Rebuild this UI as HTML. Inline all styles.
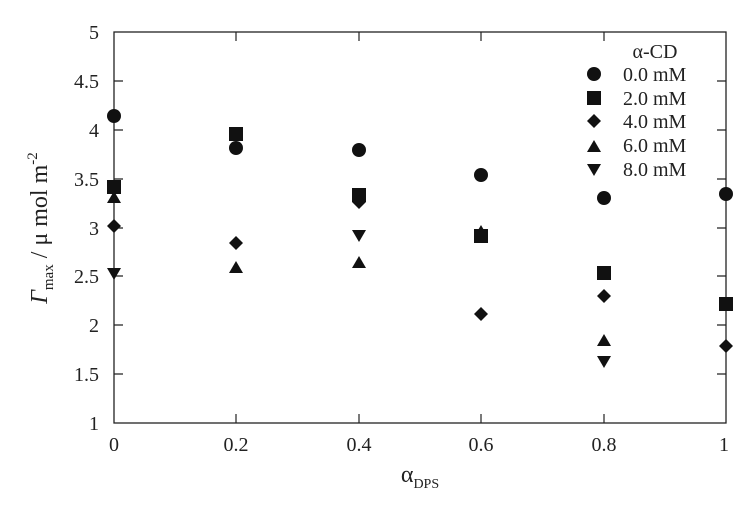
<!DOCTYPE html><html><head><style>body{margin:0;background:#fff}svg{display:block}</style></head><body>
<svg width="742" height="505" xmlns="http://www.w3.org/2000/svg" font-family="'Liberation Serif','Times New Roman',Times,serif" fill="#222">
<defs>
<circle id="c" r="7" fill="#111"/>
<rect id="s" x="-7" y="-7" width="14" height="14" fill="#111"/>
<polygon id="d" points="0,-7 7,0 0,7 -7,0" fill="#111"/>
<polygon id="t" points="0,-7 7,5 -7,5" fill="#111"/>
<polygon id="v" points="0,7 7,-5 -7,-5" fill="#111"/>
</defs>
<rect x="114" y="32" width="612" height="391" fill="none" stroke="#222" stroke-width="1.3"/>
<g stroke="#222" stroke-width="1.2">
<path d="M114,81h9M114,130h9M114,179h9M114,228h9M114,276h9M114,325h9M114,374h9"/>
<path d="M726,81h-9M726,130h-9M726,179h-9M726,228h-9M726,276h-9M726,325h-9M726,374h-9"/>
<path d="M236,423v-9M359,423v-9M481,423v-9M604,423v-9M236,32v9M359,32v9M481,32v9M604,32v9"/>
</g>
<g font-size="20" text-anchor="end">
<text x="99" y="39">5</text><text x="99" y="88">4.5</text><text x="99" y="137">4</text><text x="99" y="186">3.5</text><text x="99" y="235">3</text><text x="99" y="283">2.5</text><text x="99" y="332">2</text><text x="99" y="381">1.5</text><text x="99" y="430">1</text>
</g>
<g font-size="20" text-anchor="middle">
<text x="114" y="451">0</text><text x="236" y="451">0.2</text><text x="359" y="451">0.4</text><text x="481" y="451">0.6</text><text x="604" y="451">0.8</text><text x="724" y="451">1</text>
<text x="420" y="482" font-size="24">α<tspan font-size="14" dy="6">DPS</tspan></text>
</g>
<text transform="translate(47,228) rotate(-90)" text-anchor="middle" font-size="24"><tspan font-style="italic">Γ</tspan><tspan font-size="15" dy="6">max</tspan><tspan dy="-6"> / μ mol m</tspan><tspan font-size="15" dy="-10">-2</tspan></text>
<g>
<use href="#c" x="114" y="116"/><use href="#s" x="114" y="187"/><use href="#t" x="114" y="198"/><use href="#d" x="114" y="226"/><use href="#v" x="114" y="273"/>
<use href="#s" x="236" y="134"/><use href="#c" x="236" y="148"/><use href="#d" x="236" y="243"/><use href="#t" x="236" y="268"/>
<use href="#c" x="359" y="150"/><use href="#s" x="359" y="195"/><use href="#d" x="359" y="202"/><use href="#v" x="359" y="235"/><use href="#t" x="359" y="263"/>
<use href="#c" x="481" y="175"/><use href="#t" x="481" y="232"/><use href="#s" x="481" y="236"/><use href="#d" x="481" y="314"/>
<use href="#c" x="604" y="198"/><use href="#s" x="604" y="273"/><use href="#d" x="604" y="296"/><use href="#t" x="604" y="341"/><use href="#v" x="604" y="361"/>
<use href="#c" x="726" y="194"/><use href="#s" x="726" y="304"/><use href="#d" x="726" y="346"/>
</g>
<g font-size="20">
<text x="655" y="58" text-anchor="middle">α-CD</text>
<use href="#c" x="594" y="74"/><text x="623" y="81">0.0 mM</text>
<use href="#s" x="594" y="98"/><text x="623" y="105">2.0 mM</text>
<use href="#d" x="594" y="121"/><text x="623" y="128">4.0 mM</text>
<use href="#t" x="594" y="147"/><text x="623" y="152">6.0 mM</text>
<use href="#v" x="594" y="169"/><text x="623" y="176">8.0 mM</text>
</g>
</svg>
</body></html>
